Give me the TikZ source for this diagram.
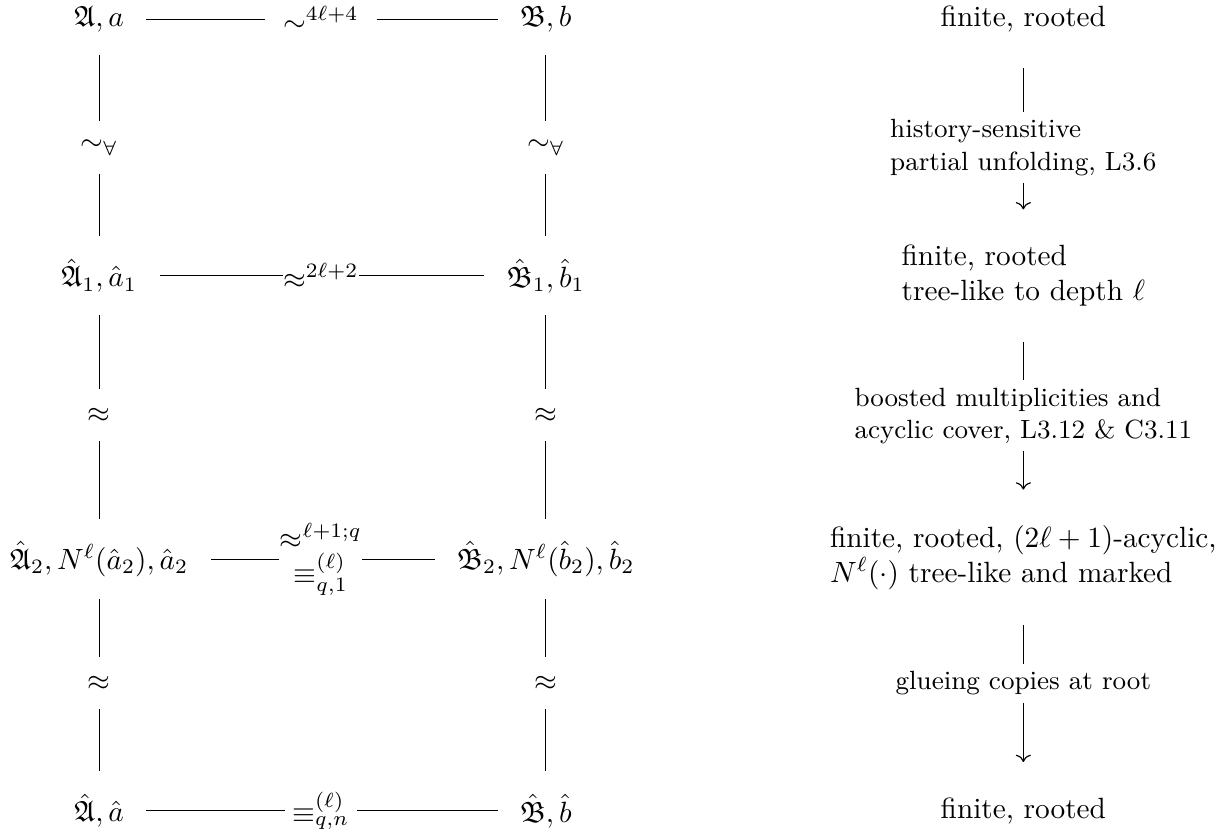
\documentclass[tikz,border=0pt]{standalone}
\usepackage{amsmath}
\usepackage{amssymb}
\usepackage{tikz}
\usetikzlibrary{arrows.meta}

\begin{document}
\begin{tikzpicture}[
    obj/.style={
        inner sep=7.5pt
    },
    rel/.style={
        inner sep=6.3pt
    },
    prop/.style={
        align=left,
        inner xsep=2pt,
        inner ysep=12pt
    },
    via/.style={
        align=left,
        inner sep=2.4pt,
        font=\small
    },
    link/.style={
        thin
    },
    arrow/.style={
        ->,
        thin
    }
]

\useasboundingbox (0,0) rectangle (14.76,-10.01);

% ==================================================
% Structures, left and right
% ==================================================

\node[obj] (A)  at (1.19,-0.23) {$\mathfrak{A}, a$};
\node[obj] (B)  at (6.55,-0.23) {$\mathfrak{B}, b$};

\node[obj] (A1) at (1.19,-3.31) {$\hat{\mathfrak{A}}_1, \hat{a}_1$};
\node[obj] (B1) at (6.55,-3.31) {$\hat{\mathfrak{B}}_1, \hat{b}_1$};

\node[obj] (A2) at (1.19,-6.71) {$\hat{\mathfrak{A}}_2, N^\ell(\hat{a}_2), \hat{a}_2$};
\node[obj] (B2) at (6.55,-6.71) {$\hat{\mathfrak{B}}_2, N^\ell(\hat{b}_2), \hat{b}_2$};

\node[obj] (A3) at (1.19,-9.73) {$\hat{\mathfrak{A}}, \hat{a}$};
\node[obj] (B3) at (6.55,-9.73) {$\hat{\mathfrak{B}}, \hat{b}$};


% ==================================================
% Relations
% ==================================================

% Horizontal
\node[rel, inner xsep=6pt]   (h0) at (3.85,-0.23) {$\sim^{4\ell+4}$};
\node[rel, inner xsep=0pt]   (h1) at (3.85,-3.31) {$\approx^{2\ell+2}$};
\node[rel, inner xsep=0pt, align=center] (h2) at (3.85,-6.71)
{
    $\approx^{\ell+1;q}$\\
    $\equiv^{(\ell)}_{q,1}$
};
\node[rel, inner xsep=2.4pt] (h3) at (3.85,-9.73) {$\equiv^{(\ell)}_{q,n}$};

% Vertical
\node[rel] (vA0) at (1.19,-1.77) {$\sim_\forall$};
\node[rel] (vB0) at (6.55,-1.77) {$\sim_\forall$};
\node[rel] (vA1) at (1.19,-4.98) {$\approx$};
\node[rel] (vB1) at (6.55,-4.98) {$\approx$};
\node[rel] (vA2) at (1.19,-8.20) {$\approx$};
\node[rel] (vB2) at (6.55,-8.20) {$\approx$};


% ==================================================
% Properties column
% ==================================================

\node[prop] (p0) at (12.28,-0.23) {finite, rooted};

\node[via] (s0) at (12.28,-1.77)
{
    history-sensitive\\
    partial unfolding, L3.6
};

\node[prop] (p1) at (12.28,-3.31)
{
    finite, rooted\\
    tree-like to depth $\ell$
};

\node[via] (s1) at (12.28,-4.99)
{
    boosted multiplicities and\\
    acyclic cover, L3.12 \& C3.11
};

\node[prop] (p2) at (12.28,-6.69)
{
    finite, rooted, $(2\ell+1)$-acyclic,\\
    $N^\ell(\cdot)$ tree-like and marked
};

\node[via] (s2) at (12.28,-8.20) {glueing copies at root};

\node[prop] (p3) at (12.28,-9.73) {finite, rooted};


% ==================================================
% Lines between structures
% ==================================================

\draw[link] (A) -- (h0);
\draw[link] (h0) -- (B);
\draw[link] (A1) -- (h1);
\draw[link] (h1) -- (B1);
\draw[link] (A2) -- (h2);
\draw[link] (h2) -- (B2);
\draw[link] (A3) -- (h3);
\draw[link] (h3) -- (B3);

\draw[link] (A) -- (vA0);
\draw[link] (vA0) -- (A1);
\draw[link] (A1) -- (vA1);
\draw[link] (vA1) -- (A2);
\draw[link] (A2) -- (vA2);
\draw[link] (vA2) -- (A3);

\draw[link] (B) -- (vB0);
\draw[link] (vB0) -- (B1);
\draw[link] (B1) -- (vB1);
\draw[link] (vB1) -- (B2);
\draw[link] (B2) -- (vB2);
\draw[link] (vB2) -- (B3);


% ==================================================
% Construction steps
% ==================================================

\draw[link] (p0) -- (s0);
\draw[arrow] (s0) -- (p1);
\draw[link] (p1) -- (s1);
\draw[arrow] (s1) -- (p2);
\draw[link] (p2) -- (s2);
\draw[arrow] (s2) -- (p3);

\end{tikzpicture}
\end{document}
